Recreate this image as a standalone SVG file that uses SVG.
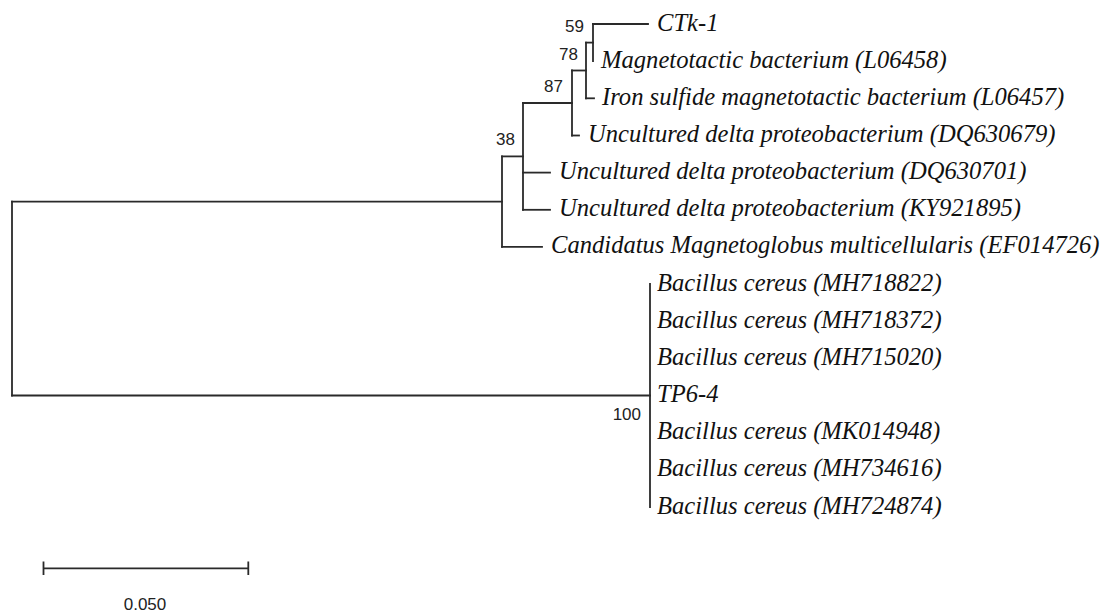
<svg xmlns="http://www.w3.org/2000/svg" width="1118" height="614" viewBox="0 0 1118 614">
<style>
.b{fill:none;stroke:#2a2a2a;stroke-width:1.8;stroke-linecap:square}
.t{font-family:"Liberation Serif","Times New Roman",serif;font-style:italic;font-size:24.6px;fill:#111}
.s{font-family:"Liberation Sans",Arial,sans-serif;font-size:17px;fill:#222}
</style>
<rect width="1118" height="614" fill="#fff"/>
<g id="connectors" class="b">
<path d="M12,201.7V395.5"/>
<path d="M12,201.7H502"/>
<path d="M12,395.5H650"/>
<path d="M502,156.4V246.9"/>
<path d="M502,156.4H523"/>
<path d="M502,246.9H542"/>
<path d="M523,103V209.8"/>
<path d="M523,103H572"/>
<path d="M523,172.6H550"/>
<path d="M523,209.8H550"/>
<path d="M572,70.5V135.5"/>
<path d="M572,70.5H586"/>
<path d="M572,135.5H579"/>
<path d="M586,42.6V98.3"/>
<path d="M586,42.6H593"/>
<path d="M586,98.3H594"/>
<path d="M593,24V61.2"/>
<path d="M593,24H648"/>
<path d="M650,284V507"/>
</g>
<g id="support">
<text class="s" x="584" y="32" text-anchor="end">59</text>
<text class="s" x="578" y="60" text-anchor="end">78</text>
<text class="s" x="563" y="92" text-anchor="end">87</text>
<text class="s" x="515" y="145" text-anchor="end">38</text>
<text class="s" x="641" y="420" text-anchor="end">100</text>
</g>
<g id="leaf-ctk1"><text class="t" x="657" y="30.5">CTk-1</text></g>
<g id="leaf-l06458"><text class="t" x="601" y="67.7">Magnetotactic bacterium (L06458)</text></g>
<g id="leaf-l06457"><text class="t" x="602" y="104.8">Iron sulfide magnetotactic bacterium (L06457)</text></g>
<g id="leaf-dq630679"><text class="t" x="588" y="142">Uncultured delta proteobacterium (DQ630679)</text></g>
<g id="leaf-dq630701"><text class="t" x="559" y="179.1">Uncultured delta proteobacterium (DQ630701)</text></g>
<g id="leaf-ky921895"><text class="t" x="559" y="216.3">Uncultured delta proteobacterium (KY921895)</text></g>
<g id="leaf-ef014726"><text class="t" x="551" y="253.4">Candidatus Magnetoglobus multicellularis (EF014726)</text></g>
<g id="leaf-mh718822"><text class="t" x="657" y="290.5">Bacillus cereus (MH718822)</text></g>
<g id="leaf-mh718372"><text class="t" x="657" y="327.7">Bacillus cereus (MH718372)</text></g>
<g id="leaf-mh715020"><text class="t" x="657" y="364.9">Bacillus cereus (MH715020)</text></g>
<g id="leaf-tp64"><text class="t" x="657" y="402">TP6-4</text></g>
<g id="leaf-mk014948"><text class="t" x="657" y="439.2">Bacillus cereus (MK014948)</text></g>
<g id="leaf-mh734616"><text class="t" x="657" y="476.3">Bacillus cereus (MH734616)</text></g>
<g id="leaf-mh724874"><text class="t" x="657" y="513.5">Bacillus cereus (MH724874)</text></g>
<g id="scale">
<path class="b" d="M43.5,568.3H248.3M43.5,562.3V574M248.3,562.3V574"/>
<text class="s" x="145" y="610" text-anchor="middle">0.050</text>
</g>
</svg>
